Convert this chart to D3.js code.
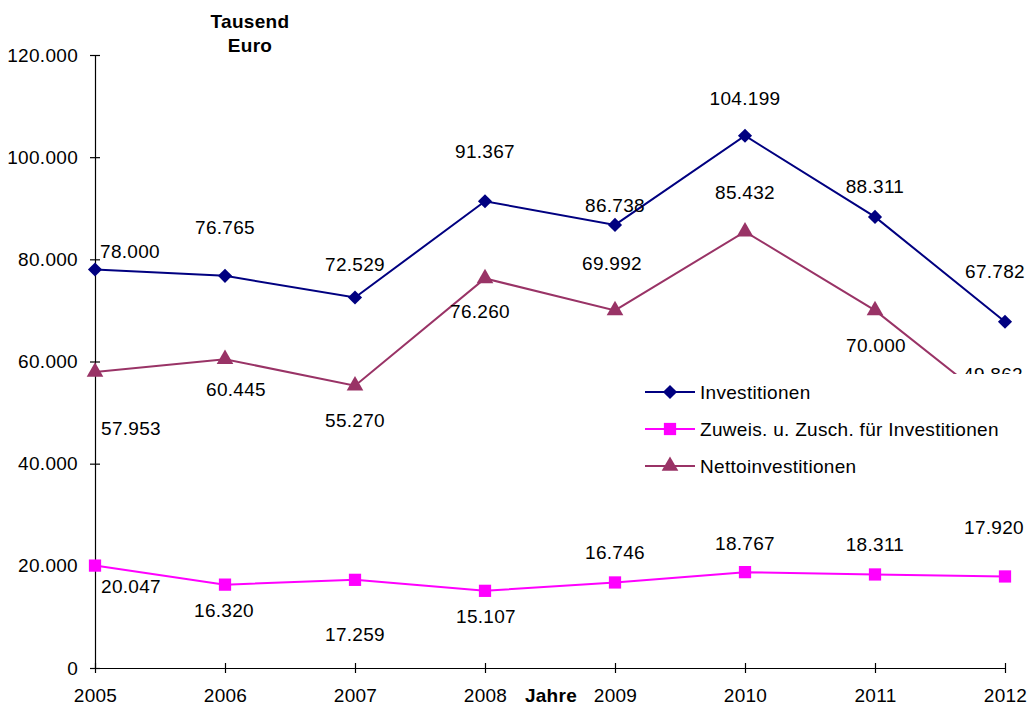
<!DOCTYPE html>
<html><head><meta charset="utf-8">
<script src="https://cdn.jsdelivr.net/npm/d3@7/dist/d3.min.js"></script>
<style>body{margin:0;background:#fff}svg{display:block}text{font-family:"Liberation Sans",Arial,sans-serif;letter-spacing:0.3px}</style>
</head><body><svg id="c" width="1033" height="705"></svg>
<script>
const years = ["2005","2006","2007","2008","2009","2010","2011","2012"];
const investitionen = [78000,76765,72529,91367,86738,104199,88311,67782];
const zuweisungen = [20047,16320,17259,15107,16746,18767,18311,17920];
const netto = [57953,60445,55270,76260,69992,85432,70000,49862];
const yTicks = [0,20000,40000,60000,80000,100000,120000];
const seriesNames = ["Investitionen","Zuweis. u. Zusch. für Investitionen","Nettoinvestitionen"];
// label offsets (layout, not data)
const offInv = [[35,-18],[0,-49],[0,-33],[0,-50],[0,-20],[0,-37],[0,-31],[-10,-50]];
const offZu = [[36,21],[-1,26],[0,55],[1,26],[0,-30],[0,-29],[0,-30],[-11,-49]];
const offNe = [[36,56],[11,30],[0,35],[-5,33],[-3,-47],[0,-39],[1,35],[-12,-39]];

const FS = 19;
const svg = d3.select("#c");
const fmt = v => d3.format(",")(v).replace(/,/g,".");
const x = d3.scalePoint().domain(years).range([95,1005]);
const y = d3.scaleLinear().domain([0,120000]).range([668,55]);

// axes
const gy = svg.append("g").attr("transform","translate(95,0)")
  .call(d3.axisLeft(y).tickValues(yTicks).tickFormat(fmt).tickSizeInner(5).tickSizeOuter(0).tickPadding(12));
gy.selectAll(".tick line").attr("x1",-5).attr("x2",5);
const gx = svg.append("g").attr("transform","translate(0,668)")
  .call(d3.axisBottom(x).tickSizeInner(5).tickSizeOuter(0));
gx.selectAll(".tick line").attr("y1",-5).attr("y2",5);
[gx,gy].forEach(g=>{
  g.select(".domain").attr("stroke","#000").attr("stroke-width",1.2);
  g.selectAll(".tick line").attr("stroke","#000").attr("stroke-width",1.2);
  g.selectAll("text").attr("font-size",FS).attr("fill","#000").attr("font-family","Liberation Sans, Arial, sans-serif");
});
gx.selectAll("text").attr("y",34).attr("dy",0);

svg.append("text").attr("x",250).attr("y",28).attr("text-anchor","middle").attr("font-weight","bold").attr("font-size",FS).text("Tausend");
svg.append("text").attr("x",250).attr("y",52).attr("text-anchor","middle").attr("font-weight","bold").attr("font-size",FS).text("Euro");
svg.append("text").attr("x",551).attr("y",702).attr("text-anchor","middle").attr("font-weight","bold").attr("font-size",FS).text("Jahre");

const diamond = {draw(ctx,size){const r=Math.sqrt(size/2);ctx.moveTo(0,-r);ctx.lineTo(r,0);ctx.lineTo(0,r);ctx.lineTo(-r,0);ctx.closePath();}};
const mkD = d3.symbol().type(diamond).size(100);
const mkS = d3.symbol().type(d3.symbolSquare).size(150);
const mkT = d3.symbol().type(d3.symbolTriangle).size(120);
const series = [
  {vals:investitionen,color:"#000080",sym:mkD,off:offInv},
  {vals:zuweisungen,color:"#FF00FF",sym:mkS,off:offZu},
  {vals:netto,color:"#993366",sym:mkT,off:offNe}
];
const line = d3.line().x((d,i)=>x(years[i])).y(d=>y(d));
series.forEach(s=>{
  svg.append("path").attr("d",line(s.vals)).attr("fill","none").attr("stroke",s.color).attr("stroke-width",2);
  svg.append("g").selectAll("path").data(s.vals).join("path")
    .attr("d",s.sym).attr("fill",s.color)
    .attr("transform",(d,i)=>`translate(${x(years[i])},${y(d)})`);
});
series.forEach(s=>{
  svg.append("g").selectAll("text").data(s.vals).join("text")
    .attr("x",(d,i)=>x(years[i])+s.off[i][0]).attr("y",(d,i)=>y(d)+s.off[i][1])
    .attr("dy","0.35em").attr("text-anchor","middle").attr("font-size",FS).attr("fill","#000")
    .text(d=>fmt(d));
});

// legend
const lg = svg.append("g");
lg.append("rect").attr("x",630).attr("y",374).attr("width",403).attr("height",110).attr("fill","#fff");
series.forEach((s,i)=>{
  const ly = 392 + i*37;
  lg.append("line").attr("x1",645).attr("x2",695).attr("y1",ly).attr("y2",ly).attr("stroke",s.color).attr("stroke-width",2);
  lg.append("path").attr("d",s.sym).attr("fill",s.color).attr("transform",`translate(670,${ly})`);
  lg.append("text").attr("x",700).attr("y",ly).attr("dy","0.35em").attr("font-size",FS).attr("fill","#000").text(seriesNames[i]);
});
</script></body></html>
